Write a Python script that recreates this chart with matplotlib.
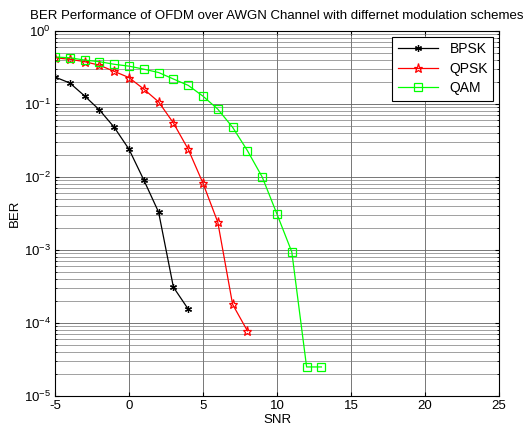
import matplotlib
matplotlib.use("Agg")
import matplotlib.pyplot as plt
from matplotlib.ticker import LogLocator, NullFormatter

plt.rcParams['font.family'] = ['Liberation Sans', 'DejaVu Sans']
plt.rcParams['font.size'] = 9.5
plt.rcParams['axes.unicode_minus'] = False

snr_bpsk = [-5, -4, -3, -2, -1, 0, 1, 2, 3, 4]
ber_bpsk = [0.234, 0.194, 0.129, 0.083, 0.048, 0.024, 0.0091, 0.0033, 0.00031, 0.000155]

snr_qpsk = [-5, -4, -3, -2, -1, 0, 1, 2, 3, 4, 5, 6, 7, 8]
ber_qpsk = [0.43, 0.41, 0.38, 0.34, 0.28, 0.23, 0.16, 0.107, 0.055, 0.024, 0.0082, 0.0024, 0.00018, 0.000078]

snr_qam = [-5, -4, -3, -2, -1, 0, 1, 2, 3, 4, 5, 6, 7, 8, 9, 10, 11, 12, 13]
ber_qam = [0.44, 0.43, 0.40, 0.38, 0.35, 0.33, 0.30, 0.27, 0.22, 0.18, 0.128, 0.085, 0.048, 0.023, 0.010, 0.0031, 0.00094, 0.000025, 0.000025]

fig = plt.figure(figsize=(5.24, 4.34), dpi=100)
ax = fig.add_axes([55/524, 1 - 396/434, (499-55)/524, (396-31)/434])

ax.semilogy(snr_bpsk, ber_bpsk, color='black', lw=0.9, marker=(6, 2, 0), ms=5, mew=0.9, label='BPSK')
ax.semilogy(snr_qpsk, ber_qpsk, color='red', lw=0.9, marker='*', ms=6.5, mfc='none', mew=0.9, label='QPSK')
ax.semilogy(snr_qam, ber_qam, color='#00ff00', lw=0.9, marker='s', ms=6, mfc='none', mew=0.9, label='QAM')

ax.set_xlim(-5, 25)
ax.set_ylim(1e-5, 1)
ax.set_xticks([-5, 0, 5, 10, 15, 20, 25])
ax.yaxis.set_major_locator(LogLocator(base=10, numticks=10))
ax.yaxis.set_minor_locator(LogLocator(base=10, subs=range(2, 10), numticks=20))
ax.yaxis.set_minor_formatter(NullFormatter())
ax.set_axisbelow(True)
ax.grid(True, which='major', color='#606060', linestyle='-', linewidth=0.6)
ax.grid(True, which='minor', axis='y', color='#7a7a7a', linestyle='-', linewidth=0.5)
ax.tick_params(which='both', direction='in', top=True, right=True, length=3, pad=3)
ax.tick_params(which='minor', length=1.5)
for s in ax.spines.values():
    s.set_linewidth(0.8)

ax.set_xlabel('SNR', labelpad=1)
ax.set_ylabel('BER', labelpad=2)
ax.set_title('BER Performance of OFDM over AWGN Channel with differnet modulation schemes', fontsize=9.5, pad=9)

leg = ax.legend(loc='upper right', fancybox=False, edgecolor='black', framealpha=1,
                handlelength=2.9, borderpad=0.4, labelspacing=0.4, fontsize=10,
                borderaxespad=0.4)
leg.get_frame().set_linewidth(0.8)

fig.savefig('out.png', dpi=100, facecolor='white')
